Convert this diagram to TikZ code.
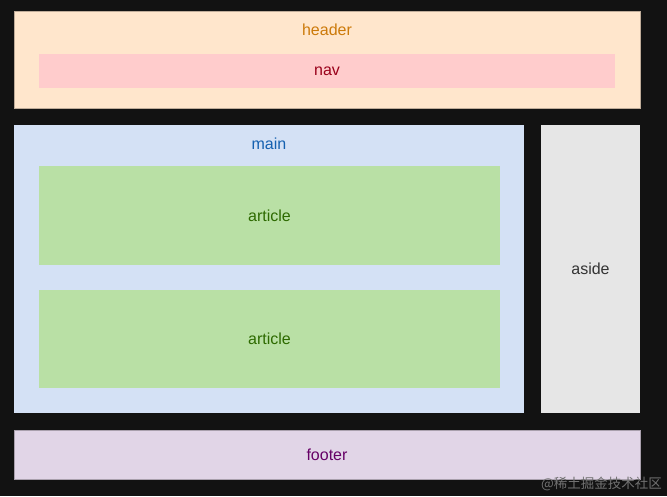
\documentclass[tikz,border=0pt]{standalone}
\usepackage{fontspec}
\setmainfont{Liberation Sans}
\newfontfamily\cjk{Noto Sans CJK SC}

\definecolor{pagebg}{HTML}{121212}
\definecolor{hdrfill}{HTML}{FFE6CC}
\definecolor{hdrtext}{HTML}{CC7A0A}
\definecolor{navfill}{HTML}{FFCCCC}
\definecolor{navtext}{HTML}{99001A}
\definecolor{mainfill}{HTML}{D4E1F5}
\definecolor{maintext}{HTML}{1460B0}
\definecolor{artfill}{HTML}{B9E0A5}
\definecolor{arttext}{HTML}{2D6A00}
\definecolor{asidefill}{HTML}{E6E6E6}
\definecolor{asidetext}{HTML}{333333}
\definecolor{footfill}{HTML}{E1D5E7}
\definecolor{foottext}{HTML}{660066}

\begin{document}
\begin{tikzpicture}[x=1pt, y=-1pt,
    box/.style={anchor=north west, inner sep=0pt, outer sep=0pt},
    tag/.style={font=\fontsize{16}{18}\selectfont, inner sep=0pt}]
    % page
    \fill[pagebg] (0,0) rectangle (667,496);
    \useasboundingbox (0,0) rectangle (667,496);

    % header with nav
    \node[box, fill=hdrfill, draw=hdrfill!75!black, line width=0.4pt,
          minimum width=626pt, minimum height=97pt] (header) at (14,11) {};
    \node[tag, text=hdrtext] (headerlbl) at (327,30) {header};
    \node[box, fill=navfill, minimum width=576pt, minimum height=34pt] (nav) at (39,54) {};
    \node[tag, text=navtext] (navlbl) at (nav.center) {nav};

    % main with two articles
    \node[box, fill=mainfill, minimum width=510pt, minimum height=288pt] (main) at (14,125) {};
    \node[tag, text=maintext] (mainlbl) at (269,144) {main};
    \node[box, fill=artfill, minimum width=461pt, minimum height=99pt] (art1) at (39,166) {};
    \node[tag, text=arttext] (art1lbl) at (art1.center) {article};
    \node[box, fill=artfill, minimum width=461pt, minimum height=98pt] (art2) at (39,290) {};
    \node[tag, text=arttext] (art2lbl) at (art2.center) {article};

    % aside
    \node[box, fill=asidefill, minimum width=99pt, minimum height=288pt] (aside) at (541,125) {};
    \node[tag, text=asidetext] (asidelbl) at (aside.center) {aside};

    % footer
    \node[box, fill=footfill, draw=footfill!75!black, line width=0.4pt,
          minimum width=626pt, minimum height=49pt] (footer) at (14,430) {};
    \node[tag, text=foottext] (footerlbl) at (footer.center) {footer};

    % watermark
    \node[font=\cjk\fontsize{13.5}{15}\selectfont, text=white!40!pagebg, anchor=east, inner sep=0pt]
        (mark) at (662,484) {@稀土掘金技术社区};
\end{tikzpicture}
\end{document}
